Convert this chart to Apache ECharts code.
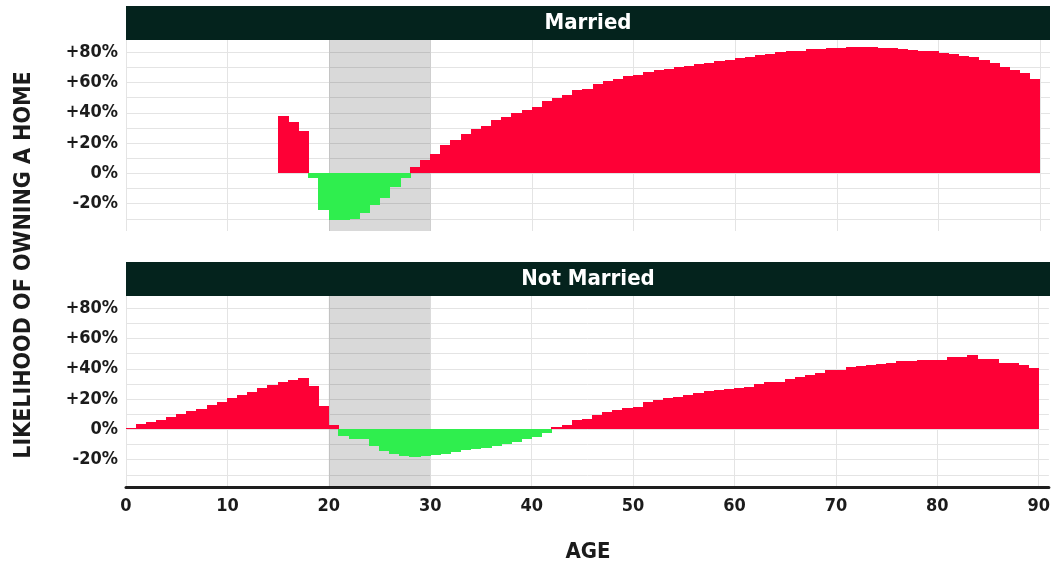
<!DOCTYPE html>
<html>
<head>
<meta charset="utf-8">
<script src="https://cdn.jsdelivr.net/npm/echarts@6/dist/echarts.min.js"></script>
<style>
  html, body { margin: 0; padding: 0; background: #ffffff; }
  #chart { width: 1053px; height: 568px; }
</style>
</head>
<body>
<div id="chart"></div>
<script>
// ---- data ----
const ages = [0,1,2,3,4,5,6,7,8,9,10,11,12,13,14,15,16,17,18,19,20,21,22,23,24,25,26,27,28,29,
  30,31,32,33,34,35,36,37,38,39,40,41,42,43,44,45,46,47,48,49,50,51,52,53,54,55,56,57,58,59,
  60,61,62,63,64,65,66,67,68,69,70,71,72,73,74,75,76,77,78,79,80,81,82,83,84,85,86,87,88,89];

const married = [null,null,null,null,null,null,null,null,null,null,null,null,null,null,null,
  38,34,28,-3,-24,-31,-31,-30,-26,-21,-16,-9,-3,4,9,
  13,19,22,26,29,31,35,37,40,42,
  44,48,50,52,55,56,59,61,62,64,
  65,67,68,69,70,71,72,73,74,75,
  76,77,78,79,80,80.5,81,82,82,83,
  83,83.5,83.5,83.5,83,82.5,82,81.5,81,80.5,
  79.5,79,77.5,76.5,74.5,72.5,70.5,68,66,62.5];

const notMarried = [1,3.5,5,6.5,8,10,12,13.5,16,18,
  21,23,25,27,29,31,32.5,34,28.5,15.5,
  3,-4.5,-6.5,-6.5,-11,-14,-16,-17.5,-18,-17.5,
  -17,-16.3,-14.7,-13.6,-13.2,-12.5,-11,-9.7,-8.1,-6.6,
  -5.3,-2.6,1.8,3,6,7,9.5,11.5,12.7,13.8,
  15,18,19.3,20.4,21.5,22.6,23.7,25.5,26,26.5,
  27,28,29.8,31,31.5,33,34.7,36,37.5,39,
  39.5,41,41.5,42.5,43,43.5,45,45.3,46,46.1,
  45.7,47.5,47.5,49,46.4,46.4,43.5,43.5,42.4,40.8];

const panelTitles = ['Married', 'Not Married'];
const yLabelValues = [-20, 0, 20, 40, 60, 80];
const yGridValues = [-30, -20, -10, 0, 10, 20, 30, 40, 50, 60, 70, 80];
const xLabelValues = [0, 10, 20, 30, 40, 50, 60, 70, 80, 90];
const highlightRange = [20, 30];
const yTitle = 'LIKELIHOOD OF OWNING A HOME';
const xTitle = 'AGE';

// ---- style ----
const RED = '#fe0036';
const GREEN = '#2fee4e';
const HEADER = '#04231d';
const FONT = '"DejaVu Sans Condensed", "DejaVu Sans", sans-serif';
const TXT = '#1b1b1b';

const GRID_LEFT = 126, GRID_W = 924, GRID_H = 191;
const tops = [40, 296];
const headerTops = [6, 262];

function pairs(values) {
  const out = [];
  for (let i = 0; i < ages.length; i++) {
    if (values[i] !== null && values[i] !== undefined) out.push([ages[i], values[i]]);
  }
  return out;
}

function renderStep(params, api) {
  const a = api.value(0), v = api.value(1);
  const p0 = api.coord([a, 0]);
  const p1 = api.coord([a + 1, v]);
  const x0 = Math.floor(p0[0]);
  const x1 = Math.ceil(p1[0]);
  const yA = Math.round(Math.min(p0[1], p1[1]));
  const yB = Math.round(Math.max(p0[1], p1[1]));
  return {
    type: 'rect',
    shape: { x: x0, y: yA, width: x1 - x0, height: Math.max(1, yB - yA) },
    style: { fill: v >= 0 ? RED : GREEN, lineWidth: 0 }
  };
}

const seriesValues = [married, notMarried];

const option = {
  backgroundColor: '#ffffff',
  animation: false,
  grid: tops.map(t => ({ left: GRID_LEFT, top: t, width: GRID_W, height: GRID_H, containLabel: false })),
  xAxis: [0, 1].map(i => ({
    type: 'value', gridIndex: i, min: 0, max: 91,
    axisLine: { show: i === 1, onZero: false, lineStyle: { color: '#1e1e1e', width: 3 } },
    axisTick: { show: false, customValues: xLabelValues },
    axisLabel: {
      show: i === 1, customValues: xLabelValues, margin: 10,
      fontFamily: FONT, fontWeight: 'bold', fontSize: 18, color: TXT
    },
    splitLine: { show: true, lineStyle: { color: '#e4e4e4', width: 1 } }
  })),
  yAxis: [0, 1].map(i => ({
    type: 'value', gridIndex: i, min: -38, max: 88,
    axisLine: { show: false },
    axisTick: { show: false, customValues: yGridValues },
    axisLabel: {
      customValues: yLabelValues, margin: 8,
      fontFamily: FONT, fontWeight: 'bold', fontSize: 18, color: TXT,
      formatter: v => (v > 0 ? '+' : '') + v + '%'
    },
    splitLine: { show: true, lineStyle: { color: '#e4e4e4', width: 1 } }
  })),
  series: [0, 1].map(i => ({
    type: 'custom',
    xAxisIndex: i, yAxisIndex: i,
    renderItem: renderStep,
    encode: { x: 0, y: 1 },
    data: pairs(seriesValues[i]),
    clip: true,
    z: 3,
    markArea: {
      silent: true,
      itemStyle: { color: 'rgba(0,0,0,0.15)' },
      data: [[{ xAxis: highlightRange[0] }, { xAxis: highlightRange[1] }]]
    }
  })),
  graphic: [
    ...headerTops.map((ht, i) => ({
      type: 'group',
      children: [
        { type: 'rect', shape: { x: GRID_LEFT, y: ht, width: GRID_W, height: 34 }, style: { fill: HEADER } },
        {
          type: 'text', x: GRID_LEFT + GRID_W / 2, y: ht + 17,
          style: {
            text: panelTitles[i], fill: '#ffffff', font: 'bold 22px ' + FONT,
            align: 'center', verticalAlign: 'middle'
          }
        }
      ]
    })),
    {
      type: 'text', x: 24, y: 265, rotation: Math.PI / 2,
      style: { text: yTitle, fill: TXT, font: 'bold 23px ' + FONT, align: 'center', verticalAlign: 'middle' }
    },
    {
      type: 'text', x: 588, y: 552,
      style: { text: xTitle, fill: TXT, font: 'bold 22px ' + FONT, align: 'center', verticalAlign: 'middle' }
    }
  ]
};

const chart = echarts.init(document.getElementById('chart'), null, { renderer: 'canvas' });
chart.setOption(option);
</script>
</body>
</html>
